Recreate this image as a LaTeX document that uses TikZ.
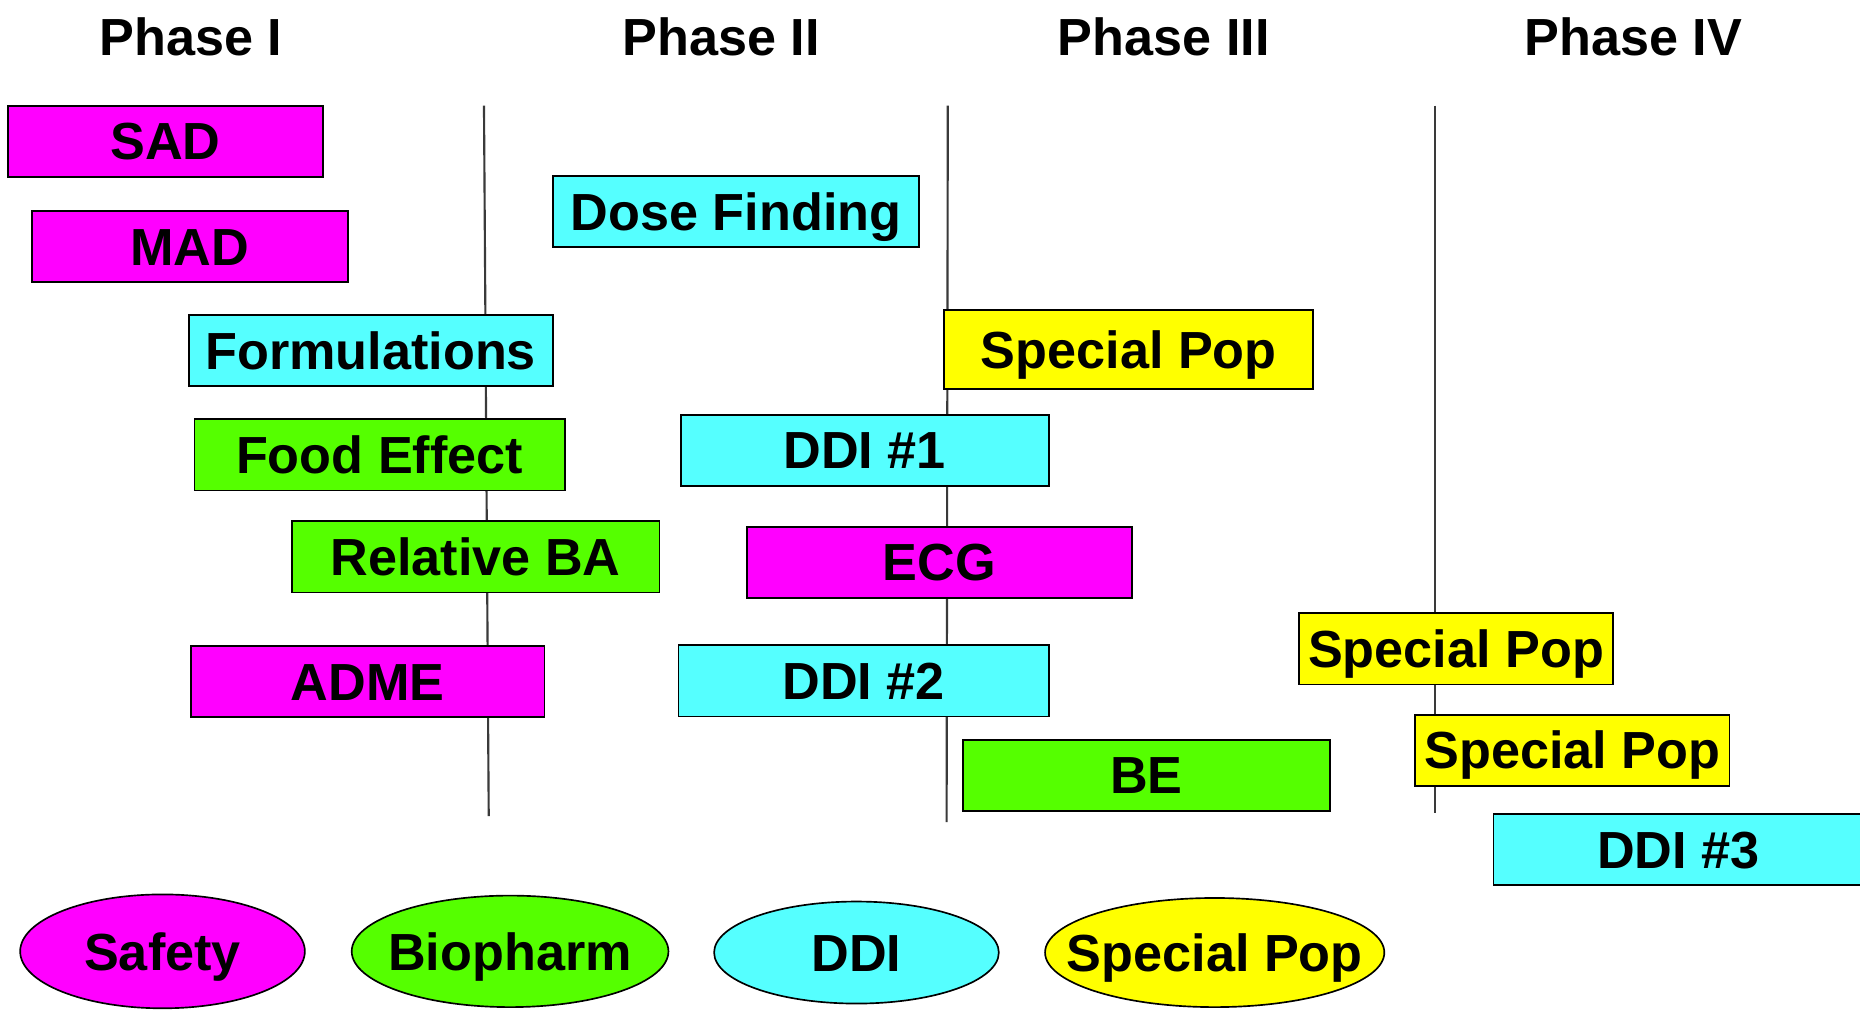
\documentclass[tikz,border=0pt]{standalone}
\usepackage{fontspec}
\setmainfont{Liberation Sans}
\usetikzlibrary{shapes.geometric}
\definecolor{safetyc}{HTML}{FF00FF}
\definecolor{biophc}{HTML}{55FF00}
\definecolor{ddic}{HTML}{55FFFF}
\definecolor{specc}{HTML}{FFFF00}
\definecolor{phaseline}{HTML}{3A3A3A}
\tikzset{
  lbl/.style={font=\fontsize{44}{44}\selectfont\bfseries, text=black},
  studybox/.style={lbl, draw=black, line width=1.6pt, rectangle, inner sep=0pt,
    minimum height=60pt, text height=31.5pt, text depth=0pt},
  legendoval/.style={draw=black, line width=1.4pt, ellipse, inner sep=0pt},
  ovaltext/.style={lbl, inner sep=0pt, text height=31.5pt, text depth=0pt},
  heading/.style={lbl, text height=31.5pt, text depth=0pt},
  divider/.style={draw=phaseline, line width=1.8pt}
}
\begin{document}
\begin{tikzpicture}[x=1pt, y=-1pt]
\useasboundingbox (0,0) rectangle (1568,851);
\fill[white] (0,0) rectangle (1568,851);

% phase headings
\node[heading] (h1) at (161,31) {Phase I};
\node[heading] (h2) at (608,31) {Phase II};
\node[heading] (h3) at (981,31) {Phase III};
\node[heading] (h4) at (1377,31) {Phase IV};

% phase dividers
\coordinate (d1t) at (408,89);  \coordinate (d1b) at (412,688);
\coordinate (d2t) at (799,89);  \coordinate (d2b) at (798,693);
\coordinate (d3t) at (1210,89); \coordinate (d3b) at (1210,685);
\draw[divider] (d1t) -- (d1b);
\draw[divider] (d2t) -- (d2b);
\draw[divider] (d3t) -- (d3b);

% studies
\node[studybox, fill=safetyc, minimum width=265pt] (sad) at (139.5,119) {SAD};
\node[studybox, fill=safetyc, minimum width=266pt] (mad) at (160,208) {MAD};
\node[studybox, fill=ddic, minimum width=309pt] (dose) at (620.5,178.5) {Dose Finding};
\node[studybox, fill=ddic, minimum width=307pt] (form) at (312.5,295.5) {Formulations};
\node[studybox, fill=specc, minimum width=311pt, minimum height=67pt] (sp1) at (951.5,294.5) {Special Pop};
\node[studybox, fill=biophc, minimum width=312pt] (food) at (320,383.5) {Food Effect};
\node[studybox, fill=ddic, minimum width=310pt] (ddi1) at (729,379.5) {DDI \#1};
\node[studybox, fill=biophc, minimum width=310pt] (relba) at (401,469.5) {Relative BA};
\node[studybox, fill=safetyc, minimum width=324pt] (ecg) at (792,474) {ECG};
\node[studybox, fill=safetyc, minimum width=298pt] (adme) at (310,574.5) {ADME};
\node[studybox, fill=ddic, minimum width=312pt] (ddi2) at (728,574) {DDI \#2};
\node[studybox, fill=biophc, minimum width=309pt] (be) at (966.5,653.5) {BE};
\node[studybox, fill=specc, minimum width=265pt] (sp2) at (1227.5,547) {Special Pop};
\node[studybox, fill=specc, minimum width=265pt] (sp3) at (1325.5,632.5) {Special Pop};
\node[studybox, fill=ddic, minimum width=312pt] (ddi3) at (1415,716) {DDI \#3};

% legend ovals, with their labels set on top
\node[legendoval, fill=safetyc, minimum width=240pt, minimum height=96pt] (lsafe) at (137,802) {};
\node[legendoval, fill=biophc, minimum width=267pt, minimum height=94pt] (lbio) at (430,802) {};
\node[legendoval, fill=ddic, minimum width=240pt, minimum height=86pt] (lddi) at (722,803) {};
\node[legendoval, fill=specc, minimum width=286pt, minimum height=92pt] (lspec) at (1024,803) {};
\node[ovaltext] (tsafe) at (lsafe) {Safety};
\node[ovaltext] (tbio) at (lbio) {Biopharm};
\node[ovaltext] (tddi) at (lddi) {DDI};
\node[ovaltext] (tspec) at (lspec) {Special Pop};
\end{tikzpicture}
\end{document}
